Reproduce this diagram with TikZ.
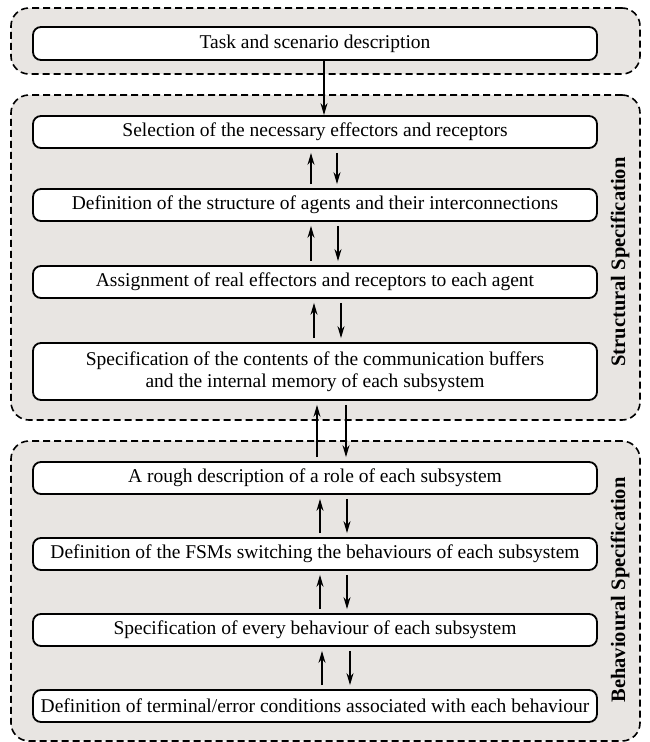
\documentclass[tikz,border=0pt]{standalone}
\usepackage{fontspec}
\setmainfont{Liberation Serif}
\usetikzlibrary{arrows.meta,calc}

\definecolor{panelgrey}{RGB}{232,229,226}

\begin{document}
\begin{tikzpicture}[x=1pt,y=-1pt,
  panel/.style={draw, dash pattern=on 7pt off 4pt, line width=1.6pt, fill=panelgrey,
    rounded corners=18pt, minimum width=629pt, inner sep=0pt},
  stage/.style={draw, line width=1.8pt, fill=white, rounded corners=8pt,
    minimum width=564pt, minimum height=32pt, inner sep=0pt, align=center,
    font=\fontsize{19.5}{22.5}\selectfont},
  flow/.style={-{Stealth[length=12pt,width=7pt]}, line width=1.5pt},
  side/.style={rotate=90, font=\bfseries\fontsize{20.5}{24}\selectfont}]

\useasboundingbox (0,0) rectangle (649,742);

% grouping panels
\node[panel, minimum height=66pt]  (pTask)  at (325.5,41)  {};
\node[panel, minimum height=325pt] (pStruct) at (325.5,257.5) {};
\node[panel, minimum height=300pt] (pBehav) at (325.5,591) {};

% stages
\node[stage, minimum height=33pt] (task) at (315,43.5) {Task and scenario description};
\node[stage] (s1) at (315,132) {Selection of the necessary effectors and receptors};
\node[stage] (s2) at (315,205) {Definition of the structure of agents and their interconnections};
\node[stage] (s3) at (315,282) {Assignment of real effectors and receptors to each agent};
\node[stage, minimum height=57pt] (s4) at (315,371.5)
  {Specification of the contents of the communication buffers\\and the internal memory of each subsystem};
\node[stage] (b1) at (315,478) {A rough description of a role of each subsystem};
\node[stage] (b2) at (315,554) {Definition of the FSMs switching the behaviours of each subsystem};
\node[stage] (b3) at (315,630) {Specification of every behaviour of each subsystem};
\node[stage] (b4) at (315,706) {Definition of terminal/error conditions associated with each behaviour};

% side labels
\node[side] (lStruct) at (620,262) {Structural Specification};
\node[side] (lBehav) at (620,590) {Behavioural Specification};

% top-down entry
\draw[flow] ($(task.south)+(9,0)$) -- ($(s1.north)+(9,0)$);

% feedback (up) and refinement (down) pairs
\newcommand{\stagepair}[4]{%
  \draw[flow] ($(#2.north)+(#3,-4)$) -- ($(#1.south)+(#3,4)$);
  \draw[flow] ($(#1.south)+(#4,4)$) -- ($(#2.north)+(#4,-4)$);}
\stagepair{s1}{s2}{-4}{22}
\stagepair{s2}{s3}{-4}{23}
\stagepair{s3}{s4}{-1}{26}
\stagepair{s4}{b1}{2}{31}
\stagepair{b1}{b2}{5}{32}
\stagepair{b2}{b3}{5}{32}
\stagepair{b3}{b4}{7}{35}

\end{tikzpicture}
\end{document}
